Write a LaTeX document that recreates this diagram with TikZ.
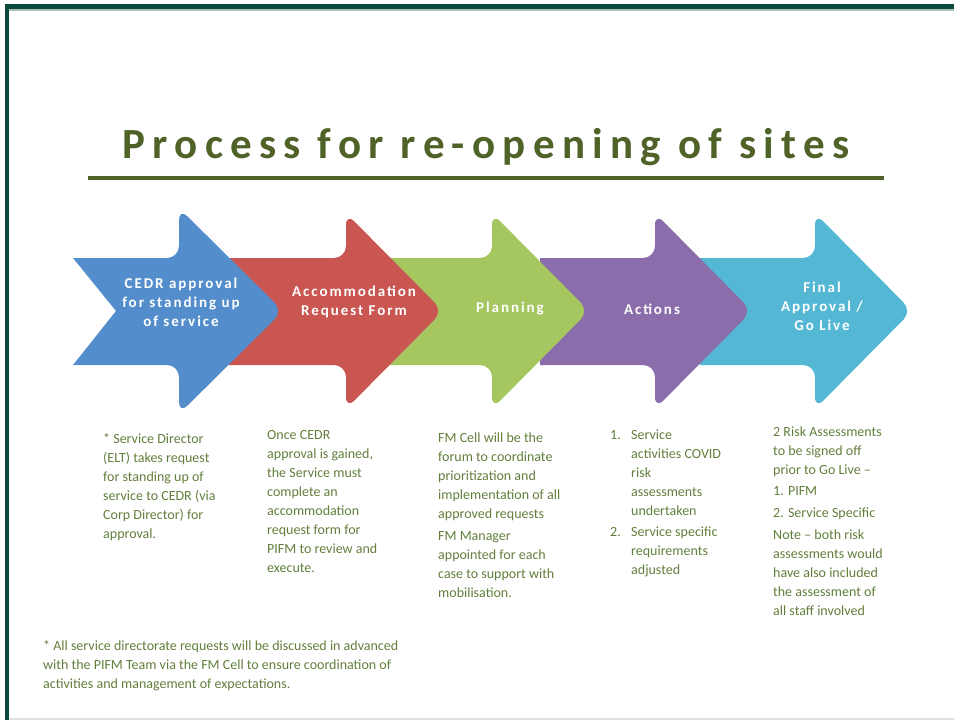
\documentclass[tikz,border=0pt]{standalone}
\usepackage{fontspec}
\usepackage{tikz}
\setmainfont{Carlito}
\newfontfamily\titlefont[LetterSpace=17]{Carlito}
\newfontfamily\stagefont[LetterSpace=13]{Carlito}
\usetikzlibrary{positioning}
\definecolor{frame}{RGB}{11, 74, 58}
\definecolor{tgreen}{RGB}{79, 98, 40}
\definecolor{bgreen}{RGB}{98, 126, 60}
\definecolor{sblue}{RGB}{84, 141, 204}
\definecolor{sred}{RGB}{202, 86, 82}
\definecolor{sgreen}{RGB}{166, 198, 96}
\definecolor{spurple}{RGB}{138, 109, 170}
\definecolor{scyan}{RGB}{84, 184, 213}
\newcommand{\stagearrow}[5]{%
  \fill [#1] (#2, 258) [rounded corners=12] -- (#3, 258) -- ({#3}, {311-#5}) -- (#4, 311)
    -- ({#3}, {311+#5}) -- (#3, 365) [sharp corners] -- (#2, 365) -- cycle;}

\begin{document}
\begin{tikzpicture}[x=1pt, y=-1pt,
    stage/.style={text=white, align=center, inner sep=0,
      font=\stagefont\bfseries\fontsize{15}{19}\selectfont},
    note/.style={text=bgreen, align=left, anchor=north west, inner sep=0,
      font=\fontsize{14}{19}\selectfont}]
    \useasboundingbox (0, 0) rectangle (954, 720);

    \fill [frame] (5, 4) rectangle (954, 9);
    \fill [frame!35] (9, 9) rectangle (954, 11);
    \fill [frame] (5, 4) rectangle (9, 720);
    \fill [black!12] (9, 718) rectangle (954, 720);

    \node (title) at (486, 147) {\titlefont\bfseries\fontsize{43}{50}\selectfont\color{tgreen}Process for re-opening of sites};
    \draw [tgreen, line width=4] (88, 178) -- (884, 178);

    \stagearrow{scyan}{700}{815}{912}{98}
    \stagearrow{spurple}{540}{655}{752}{98}
    \stagearrow{sgreen}{380}{492}{589}{98}
    \stagearrow{sred}{210}{346}{443}{98}
    \fill [sblue] (73, 258) [rounded corners=12] -- (179, 258) -- (179, 208) -- (283, 311)
      -- (179, 414) -- (179, 365) [sharp corners] -- (73, 365) -- (116, 311) -- cycle;

    \node [stage] (s1) at (181, 302) {CEDR approval\\for standing up\\of service};
    \node [stage] (s2) at (354, 302) {Accommodation\\Request Form};
    \node [stage] (s3) at (510, 309) {Planning};
    \node [stage] (s4) at (652, 309) {Actions};
    \node [stage] (s5) at (822, 306) {Final\\Approval /\\Go Live};

    \node [note] (n1) at (103, 433) {* Service Director\\(ELT) takes request\\for standing up of\\service to CEDR (via\\Corp Director) for\\approval.};
    \node [note] (n2) at (267, 430) {Once CEDR\\approval is gained,\\the Service must\\complete  an\\accommodation\\request form for\\PIFM to review and\\execute.};
    \node [note] (n3) at (438, 433) {FM Cell will be the\\forum to coordinate\\prioritization  and\\implementation  of all\\approved  requests\\[3pt]FM Manager\\appointed  for each\\case to support with\\mobilisation.};
    \node [note] (n4) at (610, 430) {\makebox[21pt][l]{1.}Service\\\hspace*{21pt}activities COVID\\\hspace*{21pt}risk\\\hspace*{21pt}assessments\\\hspace*{21pt}undertaken\\[2pt]\makebox[21pt][l]{2.}Service specific\\\hspace*{21pt}requirements\\\hspace*{21pt}adjusted};
    \node [note] (n5) at (773, 427) {2 Risk Assessments\\to be signed  off\\prior to Go Live --\\[2pt]1. PIFM\\[3pt]2. Service Specific\\[3pt]Note -- both  risk\\assessments would\\have also included\\the assessment of\\all staff involved};

    \node [note] (foot) at (43, 640) {* All service directorate  requests will be discussed in advanced\\with the PIFM Team via the FM Cell to ensure coordination  of\\activities and management  of expectations.};
\end{tikzpicture}
\end{document}
